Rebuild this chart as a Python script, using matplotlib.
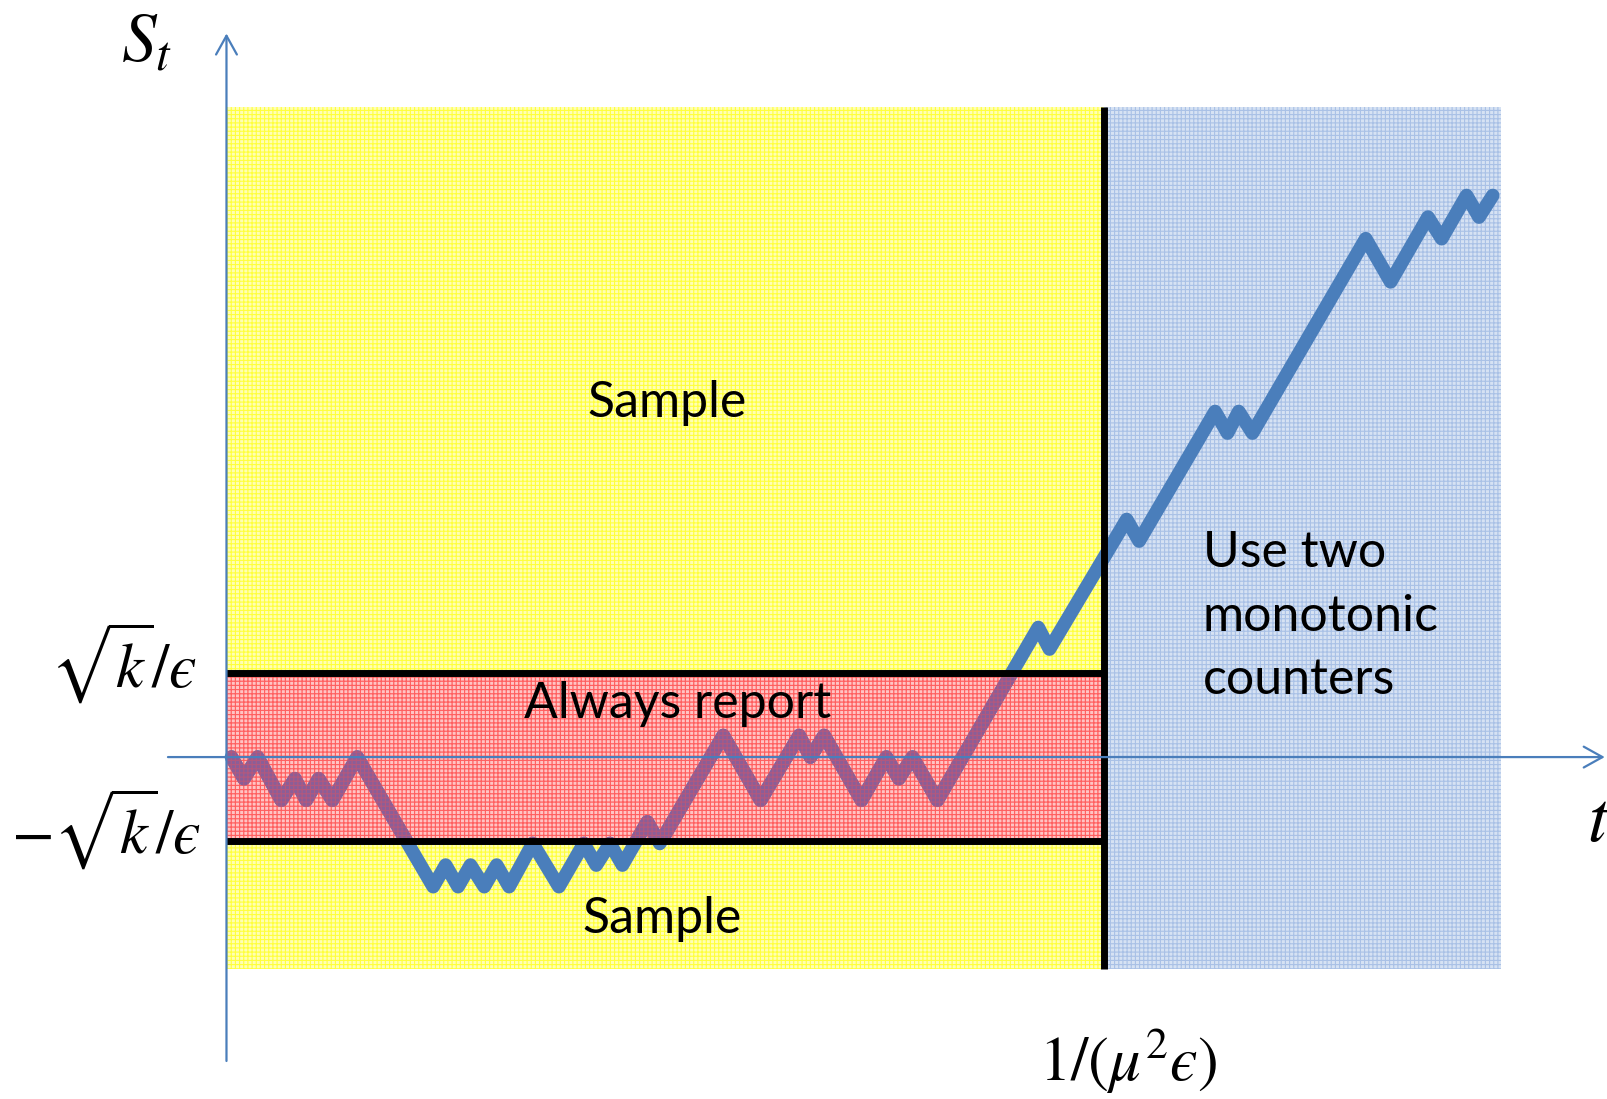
import matplotlib
matplotlib.use("Agg")
import matplotlib.pyplot as plt
from matplotlib.patches import Rectangle, FancyArrowPatch

plt.rcParams['mathtext.fontset'] = 'stix'
plt.rcParams['hatch.linewidth'] = 0.8

# ---- data ----
walk_t = [0.4, 1.4, 2.5, 4.4, 5.5, 6.4, 7.4, 8.5, 10.5, 16.6, 17.6, 18.6, 19.6,
          20.7, 21.7, 22.7, 24.6, 26.7, 28.7, 29.7, 30.8, 31.8, 33.8, 34.8,
          39.9, 42.9, 46.0, 46.9, 48.0, 51.0, 53.0, 54.0, 55.1, 57.1, 65.2,
          66.1, 72.3, 73.3, 79.4, 80.4, 81.3, 82.4, 91.5, 93.5, 96.5, 97.6,
          99.6, 100.6, 101.7]
walk_S = [0, -1, 0, -2, -1, -2, -1, -2, 0, -6, -5, -6, -5, -6, -5, -6, -4, -6,
          -4, -5, -4, -5, -3, -4, 1, -2, 1, 0, 1, -2, 0, -1, 0, -2, 6, 5, 11,
          10, 16, 15, 16, 15, 24, 22, 25, 24, 26, 25, 26]

band = 3.9           # sqrt(k)/eps level
t_switch = 70.5      # 1/(mu^2 eps)
t_end = 102.4
S_top = 30.1
S_bottom = -9.8

region_labels = ["Sample", "Always report", "Sample", "Use two\nmonotonic\ncounters"]
EPS = '\u03f5'   # lunate epsilon
label_up = r'$\sqrt{k}/' + EPS + '$'
label_down = r'$-\sqrt{k}/' + EPS + '$'
label_switch = r'$1/(\mu^2' + EPS + ')$'

# ---- figure ----
fig = plt.figure(figsize=(16.08, 10.99), dpi=100)
ax = fig.add_axes([0, 0, 1, 1])
ax.set_xlim(-18.19, 110.96)
ax.set_ylim(-15.83, 35.05)
ax.axis('off')

yellow_face, yellow_hatch = '#FFFFB4', '#FFFF3C'
red_face, red_hatch = '#FFC4C4', '#FF6A6A'
blue_face, blue_hatch = '#D6E2F3', '#A9C1E6'

ax.add_patch(Rectangle((0, S_bottom), t_switch, S_top - S_bottom,
                       facecolor=yellow_face, edgecolor=yellow_hatch,
                       hatch='++++', lw=0, zorder=1))
ax.add_patch(Rectangle((t_switch, S_bottom), t_end - t_switch, S_top - S_bottom,
                       facecolor=blue_face, edgecolor=blue_hatch,
                       hatch='++++', lw=0, zorder=1))
ax.add_patch(Rectangle((0, -band), t_switch, 2 * band,
                       facecolor=red_face, edgecolor=red_hatch,
                       hatch='++++', lw=0, zorder=2))

line_color = '#4A7EBB'
ax.plot(walk_t, walk_S, color=line_color, lw=9.8, solid_joinstyle='round',
        solid_capstyle='round', zorder=3)
# the red band is drawn over the walk (semi-transparent look)
clip_rect = Rectangle((0, -band), t_switch, 2 * band, transform=ax.transData,
                      facecolor='none', lw=0)
ax.add_patch(clip_rect)
clip_rect.set_visible(False)
ln, = ax.plot(walk_t, walk_S, color='#8A5E98', lw=9.8, solid_joinstyle='round',
              solid_capstyle='round', zorder=4)
ln.set_clip_path(clip_rect)
ax.add_patch(Rectangle((0, -band), t_switch, 2 * band,
                       facecolor='none', edgecolor=(1, 0.3, 0.3, 0.35),
                       hatch='++++', lw=0, zorder=5))

# black boundary lines
ax.plot([0, t_switch], [band, band], color='black', lw=5, zorder=6,
        solid_capstyle='butt')
ax.plot([0, t_switch], [-band, -band], color='black', lw=5, zorder=6,
        solid_capstyle='butt')
ax.plot([t_switch, t_switch], [S_bottom, S_top], color='black', lw=5, zorder=6,
        solid_capstyle='butt')

# axes with open arrowheads
axis_color = '#4A7EBB'
for (p0, p1) in [((0, -14.07), (0, 33.5)), ((-4.7, 0), (110.7, 0))]:
    ax.add_patch(FancyArrowPatch(p0, p1,
                                 arrowstyle='->,head_length=0.45,head_width=0.25',
                                 mutation_scale=30, lw=1.6, color=axis_color,
                                 shrinkA=0, shrinkB=0, zorder=7))

# math labels
ax.text(-6.4, 33.1, r'$S_t$', fontsize=50, ha='center', va='center', zorder=8)
ax.text(-2.4, 4.35, label_up, fontsize=45, ha='right', va='center', zorder=8)
ax.text(-2.1, -3.35, label_down, fontsize=45, ha='right', va='center', zorder=8)
ax.text(109.3, -3.0, r'$t$', fontsize=52, ha='left', va='center', zorder=8)
ax.text(72.4, -14.1, label_switch, fontsize=45, ha='center', va='center',
        zorder=8)

# region labels
tf = dict(family='Lato', fontsize=36, color='black', zorder=8)
ax.text(35.4, 16.4, region_labels[0], ha='center', va='center', **tf)
ax.text(36.2, 2.45, region_labels[1], ha='center', va='center', **tf)
ax.text(35.0, -7.5, region_labels[2], ha='center', va='center', **tf)
ax.text(78.4, 6.5, region_labels[3], ha='left', va='center',
        linespacing=1.47, **tf)

fig.savefig('out.png', dpi=100)
